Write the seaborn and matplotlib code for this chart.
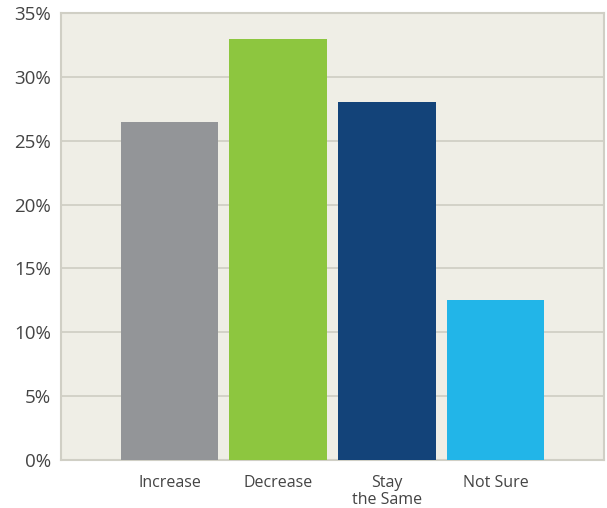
import matplotlib
matplotlib.use("Agg")
import matplotlib.pyplot as plt
import seaborn as sns
import pandas as pd
from matplotlib.ticker import PercentFormatter

categories = ["Increase", "Decrease", "Stay\nthe Same", "Not Sure"]
values = [26.5, 33.0, 28.0, 12.5]
colors = ["#939598", "#8DC63F", "#134379", "#22B5E8"]
yticks = [0, 5, 10, 15, 20, 25, 30, 35]

df = pd.DataFrame({"category": categories, "value": values})

sns.set_theme(style="white")
plt.rcParams["font.family"] = ["Open Sans", "DejaVu Sans"]

fig = plt.figure(figsize=(6.07, 5.08), dpi=100)
ax = fig.add_axes([61 / 607, (508 - 460) / 508, (604 - 61) / 607, (460 - 13) / 508])
ax.set_facecolor("#EFEEE6")

sns.barplot(data=df, x="category", y="value", hue="category", palette=colors,
            width=0.9, saturation=1, legend=False, ax=ax, zorder=3,
            linewidth=0, edgecolor="none")

ax.set_xlim(-1, 4)
ax.set_ylim(0, 35)
ax.set_yticks(yticks)
ax.yaxis.set_major_formatter(PercentFormatter(decimals=0))
ax.grid(axis="y", color="#D0CFC5", linewidth=1.3, zorder=1)
ax.set_axisbelow(True)
for s in ax.spines.values():
    s.set_color("#D0CFC5")
    s.set_linewidth(1.5)
ax.set_xlabel("")
ax.set_ylabel("")
ax.tick_params(axis="both", length=0, colors="#444444")
ax.tick_params(axis="y", labelsize=13.5, pad=7)
ax.tick_params(axis="x", labelsize=11.5, pad=11)
for lbl in ax.get_xticklabels():
    lbl.set_linespacing(1.05)

fig.savefig("out.png", dpi=100)
